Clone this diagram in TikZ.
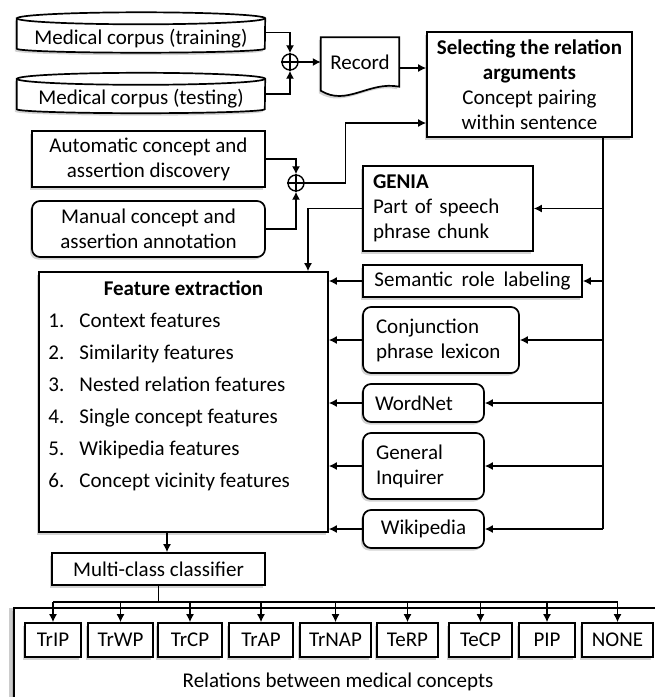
\documentclass[tikz,border=0pt]{standalone}
\usepackage{fontspec}
\setmainfont{Carlito}
\usepackage{tikz}
\usetikzlibrary{shapes, arrows.meta, shadows, backgrounds}

\newcommand{\corpusdisk}[1]{%
    \draw[line width=1.7pt, fill=white, drop shadow={shadow xshift=-2pt, shadow yshift=-2.5pt, opacity=.35}]
        ([yshift=6pt]#1.north west) -- ([yshift=4pt]#1.south west)
        arc[start angle=180, end angle=360, x radius=124pt, y radius=4pt]
        -- ([yshift=6pt]#1.north east)
        arc[start angle=0, end angle=180, x radius=124pt, y radius=6pt] -- cycle;
    \draw[line width=1.7pt] ([yshift=6pt]#1.north west)
        arc[start angle=180, end angle=360, x radius=124pt, y radius=6pt];
}

\begin{document}
\begin{tikzpicture}[
            x=1pt, y=-1pt,
            font=\fontsize{21}{25}\selectfont,
            box/.style={draw, line width=1.7pt, fill=white, inner sep=0pt,
                drop shadow={shadow xshift=-2pt, shadow yshift=-2.5pt, opacity=.35}},
            rbox/.style={box, rounded corners=8pt},
            disk/.style={inner sep=0pt, minimum width=248pt, minimum height=28pt},
            sum/.style={circle, draw, line width=1.4pt, fill=white, minimum size=16pt, inner sep=0pt},
            rel/.style={box, minimum height=34pt},
            wire/.style={line width=1.3pt},
            arr/.style={line width=1.3pt, -{Latex[length=8pt, width=8pt]}},
        ]
            \useasboundingbox (0,0) rectangle (655,697);
            \clip (0,0) rectangle (655,697);

            % corpus, record and argument selection
            \node[disk] (train) at (141,38.5) {Medical corpus (training)};
            \node[disk] (test) at (141,99) {Medical corpus (testing)};
            \node[inner sep=0pt, minimum width=78pt, minimum height=49pt] (rec) at (360,62) {Record};
            \begin{scope}[on background layer]
                \corpusdisk{train}
                \corpusdisk{test}
                \draw[line width=1.7pt, fill=white, drop shadow={shadow xshift=-2pt, shadow yshift=-2.5pt, opacity=.35}]
                    (rec.north west) -- ([yshift=-4pt]rec.south west)
                    .. controls ([xshift=26pt, yshift=-20pt]rec.south west) and ([xshift=-30pt, yshift=6pt]rec.south east) .. (rec.south east)
                    -- (rec.north east) -- cycle;
            \end{scope}
            \node[sum] (s1) at (290,62) {};
            \draw[wire] (s1.north) -- (s1.south) (s1.west) -- (s1.east);
            \node[box, minimum width=205pt, minimum height=105pt, align=center] (sel) at (529.5,84.5)
                {\textbf{Selecting the relation}\\\textbf{arguments}\\Concept pairing\\within sentence};

            % annotations
            \node[box, minimum width=233pt, minimum height=56pt, align=center] (auto) at (148.5,159)
                {Automatic concept and\\assertion discovery};
            \node[rbox, minimum width=233pt, minimum height=56pt, align=center] (manual) at (148.5,229)
                {Manual concept and\\assertion annotation};
            \node[sum] (s2) at (296,183) {};
            \draw[wire] (s2.north) -- (s2.south) (s2.west) -- (s2.east);

            % resources
            \node[box, minimum width=170pt, minimum height=85pt, text width=150pt, align=left] (genia) at (448,208.5)
                {\textbf{GENIA}\\Part of speech\\phrase chunk};
            \node[box, minimum width=219pt, minimum height=32pt] (srl) at (472.5,281)
                {Semantic\hspace{4pt} role\hspace{4pt} labeling};
            \node[rbox, minimum width=156pt, minimum height=66pt, text width=130pt, align=left] (conj) at (441,340)
                {Conjunction\\phrase lexicon};
            \node[rbox, minimum width=121pt, minimum height=38pt, text width=97pt, align=left] (wn) at (423.5,403) {WordNet};
            \node[rbox, minimum width=121pt, minimum height=66pt, text width=95pt, align=left] (gi) at (423.5,466)
                {General\\Inquirer};
            \node[rbox, minimum width=121pt, minimum height=38pt] (wiki) at (423.5,529) {Wikipedia};

            % features and classifier
            \node[box, minimum width=289pt, minimum height=260pt] (feat) at (183.5,402)
                {\begin{minipage}[t][242pt][t]{270pt}
                    \baselineskip=32pt
                    \centerline{\bfseries Feature extraction}
                    \makebox[31pt][l]{1.}Context features\par
                    \makebox[31pt][l]{2.}Similarity features\par
                    \makebox[31pt][l]{3.}Nested relation features\par
                    \makebox[31pt][l]{4.}Single concept features\par
                    \makebox[31pt][l]{5.}Wikipedia features\par
                    \makebox[31pt][l]{6.}Concept vicinity features
                \end{minipage}};
            \node[box, minimum width=213pt, minimum height=32pt] (cls) at (158.5,569) {Multi-class classifier};

            % relation classes
            \node[box, minimum width=648pt, minimum height=100pt,
                drop shadow={shadow xshift=-5pt, shadow yshift=0pt, opacity=.4}] (relbox) at (338,658) {};
            \node (reltxt) at (338,682) {Relations between medical concepts};
            \node[rel, minimum width=56pt] (trip) at (53,640) {TrIP};
            \node[rel, minimum width=65pt] (trwp) at (120.5,640) {TrWP};
            \node[rel, minimum width=64pt] (trcp) at (190,640) {TrCP};
            \node[rel, minimum width=64pt] (trap) at (261,640) {TrAP};
            \node[rel, minimum width=71pt] (trnap) at (335.5,640) {TrNAP};
            \node[rel, minimum width=61pt] (terp) at (407.5,640) {TeRP};
            \node[rel, minimum width=63pt] (tecp) at (480.5,640) {TeCP};
            \node[rel, minimum width=56pt] (pip) at (547,640) {PIP};
            \node[rel, minimum width=71pt] (none) at (617.5,640) {NONE};

            % connectors
            \draw[arr] ([yshift=6pt]train.east) -| (s1.north);
            \draw[arr] ([yshift=5pt]test.east) -| (s1.south);
            \draw[arr] (s1.east) -- (rec.west);
            \draw[arr] ([yshift=-6pt]rec.east) -- ([yshift=-6pt]rec.east -| sel.west);
            \draw[arr] (auto.east) -| (s2.north);
            \draw[arr] (manual.east) -| (s2.south);
            \draw[arr] (s2.east) -- ++(41,0) |- ([yshift=-38.5pt]sel.west);

            \coordinate (trtop) at (sel.south -| 603,0);
            \coordinate (trbot) at (wiki.east -| 603,0);
            \draw[wire] (trtop) -- (trbot);
            \draw[arr] (genia.east -| trtop) -- (genia.east);
            \draw[arr] (srl.east -| trtop) -- (srl.east);
            \draw[arr] (conj.east -| trtop) -- (conj.east);
            \draw[arr] (wn.east -| trtop) -- (wn.east);
            \draw[arr] (gi.east -| trtop) -- (gi.east);
            \draw[arr] (trbot) -- (wiki.east);

            \draw[arr] (genia.west) -| ([xshift=124.5pt]feat.north);
            \draw[arr] (srl.west) -- (srl.west -| feat.east);
            \draw[arr] (conj.west) -- (conj.west -| feat.east);
            \draw[arr] (wn.west) -- (wn.west -| feat.east);
            \draw[arr] (gi.west) -- (gi.west -| feat.east);
            \draw[arr] (wiki.west) -- (wiki.west -| feat.east);

            \draw[arr] ([xshift=-16.5pt]feat.south) -- ([xshift=-16.5pt]feat.south |- cls.north);
            \coordinate (fork) at ([yshift=-16pt]cls.south);
            \draw[wire] (cls.south) -- (fork);
            \draw[wire] (trip.north |- fork) -- (none.north |- fork);
            \draw[arr] (trip.north |- fork) -- (trip.north);
            \draw[arr] (trwp.north |- fork) -- (trwp.north);
            \draw[arr] (trcp.north |- fork) -- (trcp.north);
            \draw[arr] (trap.north |- fork) -- (trap.north);
            \draw[arr] (trnap.north |- fork) -- (trnap.north);
            \draw[arr] (terp.north |- fork) -- (terp.north);
            \draw[arr] (tecp.north |- fork) -- (tecp.north);
            \draw[arr] (pip.north |- fork) -- (pip.north);
            \draw[arr] (none.north |- fork) -- (none.north);
        \end{tikzpicture}
\end{document}
